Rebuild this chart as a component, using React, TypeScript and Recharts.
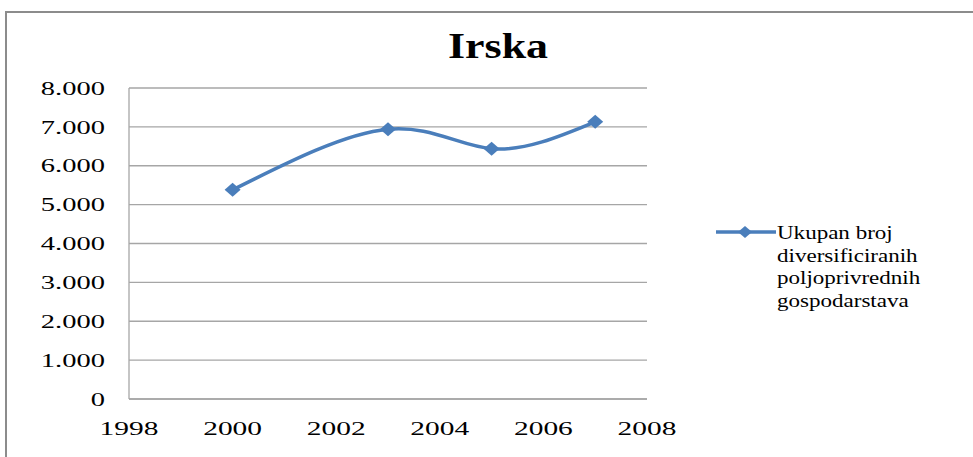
import { CartesianGrid, Line, LineChart, XAxis, YAxis } from 'recharts';

const years = [2000, 2003, 2005, 2007];
const farms = [5380, 6940, 6440, 7130];
const xTicks = [1998, 2000, 2002, 2004, 2006, 2008];
const yTicks = [0, 1000, 2000, 3000, 4000, 5000, 6000, 7000, 8000];
const seriesName = ['Ukupan broj', 'diversificiranih', 'poljoprivrednih', 'gospodarstava'];

const data = years.map((year, i) => ({ year, farms: farms[i] }));

const BLUE = '#4a7ebb';
const GRID = '#a6a6a6';
const SERIF = '"Liberation Serif", "Times New Roman", serif';

const fmt = (v: number) =>
    v === 0 ? '0' : `${Math.floor(v / 1000)}.${String(v % 1000).padStart(3, '0')}`;

const YTick = ({ x, y, payload }: { x: number; y: number; payload: { value: number } }) => (
    <text
        transform={`translate(${x}, ${y}) scale(1.5, 1)`}
        textAnchor="end"
        dy="0.35em"
        fontFamily={SERIF}
        fontSize={19}
        fill="#000"
    >
        {fmt(payload.value)}
    </text>
);

const XTick = ({ x, y, payload }: { x: number; y: number; payload: { value: number } }) => (
    <text
        transform={`translate(${x}, ${y}) scale(1.55, 1)`}
        textAnchor="middle"
        dy="0.71em"
        fontFamily={SERIF}
        fontSize={19}
        fill="#000"
    >
        {payload.value}
    </text>
);

const Diamond = ({ cx, cy }: { cx?: number; cy?: number }) => {
    if (cx == null || cy == null) return null;
    return (
        <polygon
            points={`${cx - 8},${cy} ${cx},${cy - 7} ${cx + 8},${cy} ${cx},${cy + 7}`}
            fill={BLUE}
        />
    );
};

// legend drawn by hand, outside the chart so it takes no room from the plot
const LegendBox = () => (
    <svg width={240} height={110} style={{ position: 'absolute', left: 716, top: 220 }}>
        <line x1={0} y1={12} x2={60} y2={12} stroke={BLUE} strokeWidth={3.5} />
        <polygon points="22,12 29,6 36,12 29,18" fill={BLUE} />
        {seriesName.map((line, i) => (
            <text
                key={line}
                transform={`translate(61, ${19 + i * 22.7}) scale(1.28, 1)`}
                fontFamily={SERIF}
                fontSize={18}
                fill="#000"
            >
                {line}
            </text>
        ))}
    </svg>
);

export default function App() {
    return (
        <div
            style={{
                position: 'absolute',
                left: 0,
                top: 0,
                width: 973,
                height: 457,
                overflow: 'hidden',
                background: '#fff',
            }}
        >
            <div
                style={{
                    position: 'absolute',
                    left: 5,
                    top: 11,
                    width: 1000,
                    height: 500,
                    border: '2px solid #8c8c8c',
                }}
            />
            <div
                style={{
                    position: 'absolute',
                    left: 0,
                    top: 28,
                    width: 996,
                    textAlign: 'center',
                    fontFamily: SERIF,
                    fontWeight: 'bold',
                    fontSize: 36,
                    lineHeight: '36px',
                }}
            >
                <span style={{ display: 'inline-block', transform: 'scale(1.22, 1)' }}>Irska</span>
            </div>
            <div style={{ position: 'absolute', left: 0, top: 0 }}>
                <LineChart
                    width={973}
                    height={457}
                    data={data}
                    margin={{ top: 88, right: 326, left: 69, bottom: 18 }}
                >
                    <CartesianGrid vertical={false} stroke={GRID} strokeWidth={1.3} />
                    <XAxis
                        dataKey="year"
                        type="number"
                        domain={[1998, 2008]}
                        ticks={xTicks}
                        interval={0}
                        height={40}
                        tickLine={false}
                        tickMargin={16}
                        axisLine={{ stroke: GRID, strokeWidth: 1.3 }}
                        tick={(props) => <XTick {...props} />}
                    />
                    <YAxis
                        domain={[0, 8000]}
                        ticks={yTicks}
                        interval={0}
                        width={60}
                        tickLine={false}
                        tickMargin={18}
                        axisLine={{ stroke: GRID, strokeWidth: 1.3 }}
                        tick={(props) => <YTick {...props} />}
                    />
                    <Line
                        type="natural"
                        dataKey="farms"
                        stroke={BLUE}
                        strokeWidth={3.5}
                        dot={(props) => <Diamond key={props.index} cx={props.cx} cy={props.cy} />}
                        activeDot={false}
                        isAnimationActive={false}
                    />
                </LineChart>
            </div>
            <LegendBox />
        </div>
    );
}
